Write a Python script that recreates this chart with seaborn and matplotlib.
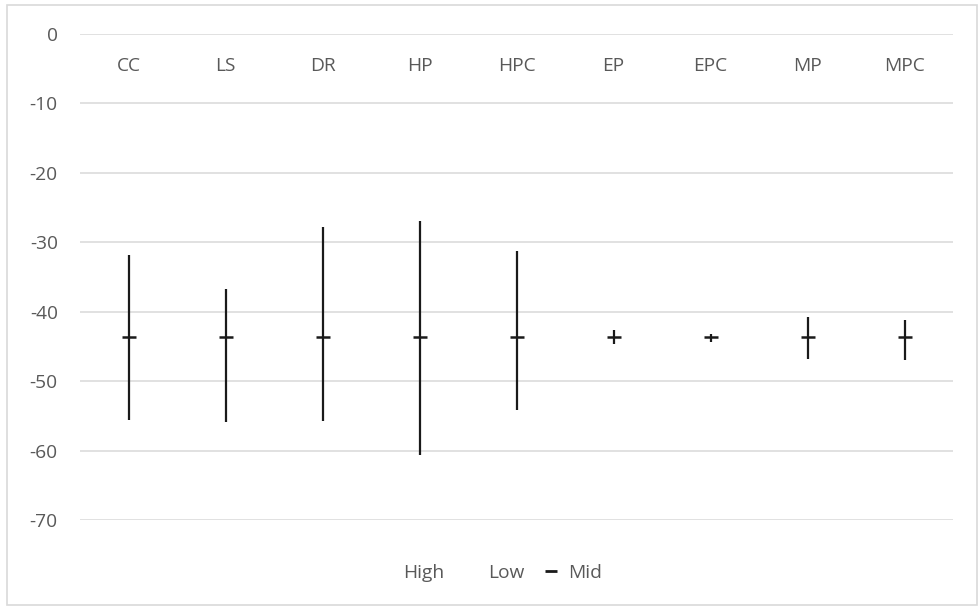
import numpy as np
import pandas as pd
import matplotlib
matplotlib.use("Agg")
import matplotlib.pyplot as plt
from matplotlib.lines import Line2D
from matplotlib.patches import Rectangle
import seaborn as sns

# ── data ──
categories = ["CC", "LS", "DR", "HP", "HPC", "EP", "EPC", "MP", "MPC"]
high = [-31.9, -36.7, -27.8, -26.9, -31.2, -42.7, -43.2, -40.8, -41.2]
low = [-55.6, -55.9, -55.8, -60.6, -54.2, -44.7, -44.3, -46.8, -47.0]
mid = [-43.7, -43.7, -43.7, -43.7, -43.7, -43.7, -43.7, -43.7, -43.7]
yticks = [0, -10, -20, -30, -40, -50, -60, -70]

df = pd.DataFrame({"cat": categories, "high": high, "low": low, "mid": mid})
df["x"] = np.arange(len(df))

sns.set_theme(style="white")
plt.rcParams["font.family"] = ["Open Sans", "DejaVu Sans"]

GRAY = "#595959"
FS = 13.8
fig = plt.figure(figsize=(9.8, 6.09), dpi=100)
ax = fig.add_axes([80 / 980, 1 - 520 / 609, 873 / 980, 486 / 609])

# high-low bars
ax.vlines(df["x"], df["low"], df["high"], color="#1a1a1a", linewidth=1.6, zorder=3)
# mid ticks
sns.scatterplot(data=df, x="x", y="mid", marker="_", s=95, color="#1a1a1a",
                linewidth=1.8, ax=ax, zorder=4, legend=False)

ax.set_xlim(-0.5, len(df) - 0.5)
ax.set_ylim(-70, 0)
ax.set_yticks(yticks)
ax.set_yticklabels([str(v) for v in yticks], color=GRAY, fontsize=FS)
ax.tick_params(axis="y", length=0, pad=16)
ax.set_xticks([])
ax.set_xlabel("")
ax.set_ylabel("")
ax.grid(axis="y", color="#d9d9d9", linewidth=1.1)
ax.set_axisbelow(True)
for s in ax.spines.values():
    s.set_visible(False)

# category labels sit just below the 0 line
for i, c in enumerate(categories):
    ax.text(i, -4.6, c, ha="center", va="center", color=GRAY, fontsize=FS)

# legend
handles = [Line2D([], [], linestyle="none"),
           Line2D([], [], linestyle="none"),
           Line2D([], [], linestyle="none", marker="_", markersize=9,
                  markeredgewidth=2, color="#1a1a1a")]
fig.legend(handles, ["High", "Low", "Mid"], loc="center", ncol=3,
           bbox_to_anchor=(0.5, 1 - 573 / 609), frameon=False,
           fontsize=FS, labelcolor=GRAY, handlelength=0.8,
           handletextpad=0.5, columnspacing=1.0)

# chart border
fig.patches.append(Rectangle((7 / 980, 4 / 609), 970 / 980, 600 / 609,
                             transform=fig.transFigure, fill=False,
                             edgecolor="#d9d9d9", linewidth=1.2))

fig.savefig("out.png", dpi=100, facecolor="white")
